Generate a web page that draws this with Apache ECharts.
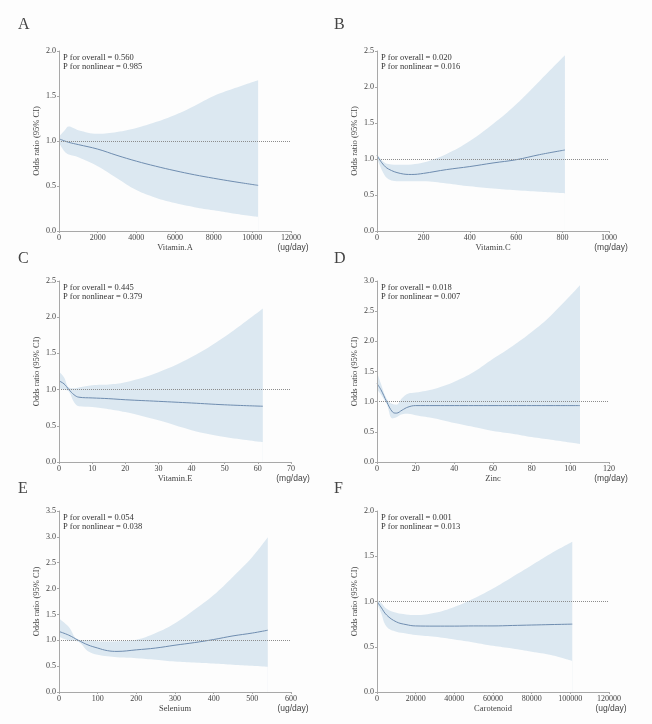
<!DOCTYPE html>
<html>
<head>
<meta charset="utf-8">
<title>RCS odds ratio panels</title>
<script src="https://cdn.jsdelivr.net/npm/echarts@6/dist/echarts.min.js"></script>
<style>
  html, body { margin: 0; padding: 0; background: #fdfdfd; }
  #myChart { width: 652px; height: 724px; }
</style>
</head>
<body>
<div id="myChart"></div>
<script>
// panel labels and texts
var panelLetters = ['A', 'B', 'C', 'D', 'E', 'F'];
var nutrientNames = ['Vitamin.A', 'Vitamin.C', 'Vitamin.E', 'Zinc', 'Selenium', 'Carotenoid'];
var unitLabels = ['(ug/day)', '(mg/day)', '(mg/day)', '(mg/day)', '(ug/day)', '(ug/day)'];
var pOverall = ['0.560', '0.020', '0.445', '0.018', '0.054', '0.001'];
var pNonlinear = ['0.985', '0.016', '0.379', '0.007', '0.038', '0.013'];

// axis ranges
var xMaxes = [12000, 1000, 70, 120, 600, 120000];
var xSteps = [2000, 200, 10, 20, 100, 20000];
var yMaxes = [2.0, 2.5, 2.5, 3.0, 3.5, 2.0];

// A - Vitamin A
var vitA_x = [50, 300, 500, 1000, 2000, 3000, 4000, 5000, 6000, 7000, 8000, 9000, 10300];
var vitA_or = [1.02, 1.0, 0.985, 0.96, 0.91, 0.84, 0.776, 0.72, 0.67, 0.625, 0.586, 0.55, 0.507];
var vitA_lower = [0.96, 0.88, 0.85, 0.82, 0.72, 0.586, 0.455, 0.37, 0.31, 0.265, 0.23, 0.195, 0.157];
var vitA_upper = [1.06, 1.12, 1.16, 1.12, 1.08, 1.10, 1.145, 1.21, 1.29, 1.39, 1.50, 1.58, 1.675];

// B - Vitamin C
var vitC_x = [0, 25, 50, 100, 150, 200, 300, 400, 500, 600, 700, 810];
var vitC_or = [1.05, 0.93, 0.86, 0.80, 0.785, 0.80, 0.853, 0.895, 0.945, 0.99, 1.06, 1.125];
var vitC_lower = [1.02, 0.82, 0.72, 0.69, 0.69, 0.69, 0.66, 0.62, 0.59, 0.565, 0.545, 0.525];
var vitC_upper = [1.07, 0.97, 0.93, 0.92, 0.925, 0.95, 1.07, 1.25, 1.485, 1.76, 2.08, 2.44];

// C - Vitamin E
var vitE_x = [0, 1.5, 3, 4.5, 6, 10, 15, 20, 30, 40, 50, 61.5];
var vitE_or = [1.12, 1.08, 1.0, 0.93, 0.895, 0.885, 0.875, 0.86, 0.838, 0.815, 0.79, 0.77];
var vitE_lower = [1.02, 1.0, 0.97, 0.83, 0.77, 0.76, 0.73, 0.69, 0.575, 0.44, 0.345, 0.275];
var vitE_upper = [1.25, 1.17, 1.03, 1.02, 1.03, 1.06, 1.07, 1.10, 1.24, 1.45, 1.73, 2.12];

// D - Zinc
var zinc_x = [0, 2, 5, 8, 10, 13, 16, 20, 30, 40, 50, 60, 70, 80, 90, 105];
var zinc_or = [1.30, 1.2, 1.0, 0.83, 0.81, 0.86, 0.91, 0.935, 0.935, 0.935, 0.935, 0.935, 0.935, 0.935, 0.935, 0.935];
var zinc_lower = [1.2, 1.12, 0.96, 0.72, 0.74, 0.79, 0.80, 0.775, 0.72, 0.645, 0.58, 0.515, 0.47, 0.415, 0.37, 0.30];
var zinc_upper = [1.49, 1.3, 1.05, 0.96, 0.95, 1.06, 1.13, 1.15, 1.215, 1.33, 1.49, 1.71, 1.92, 2.155, 2.43, 2.93];

// E - Selenium
var selen_x = [0, 25, 50, 75, 100, 125, 150, 200, 250, 300, 350, 400, 450, 500, 540];
var selen_or = [1.17, 1.1, 1.0, 0.91, 0.85, 0.80, 0.785, 0.815, 0.85, 0.905, 0.955, 1.015, 1.085, 1.14, 1.195];
var selen_lower = [1.07, 1.0, 0.97, 0.79, 0.72, 0.69, 0.67, 0.655, 0.625, 0.59, 0.57, 0.55, 0.527, 0.507, 0.488];
var selen_upper = [1.42, 1.26, 1.01, 1.0, 0.98, 0.975, 0.98, 1.01, 1.14, 1.33, 1.59, 1.875, 2.23, 2.61, 2.99];

// F - Carotenoid
var carot_x = [0, 2000, 5000, 10000, 15000, 20000, 30000, 40000, 50000, 60000, 70000, 80000, 90000, 101000];
var carot_or = [1.0, 0.94, 0.85, 0.775, 0.745, 0.73, 0.728, 0.728, 0.73, 0.73, 0.735, 0.74, 0.745, 0.75];
var carot_lower = [0.98, 0.88, 0.72, 0.665, 0.647, 0.63, 0.61, 0.58, 0.548, 0.51, 0.48, 0.445, 0.408, 0.342];
var carot_upper = [1.02, 0.99, 0.92, 0.875, 0.857, 0.85, 0.875, 0.94, 1.033, 1.143, 1.27, 1.40, 1.53, 1.66];

var panelX = [vitA_x, vitC_x, vitE_x, zinc_x, selen_x, carot_x];
var panelOr = [vitA_or, vitC_or, vitE_or, zinc_or, selen_or, carot_or];
var panelLower = [vitA_lower, vitC_lower, vitE_lower, zinc_lower, selen_lower, carot_lower];
var panelUpper = [vitA_upper, vitC_upper, vitE_upper, zinc_upper, selen_upper, carot_upper];

var bgColor = '#fdfdfd';
var bandColor = '#dce8f1';
var lineColor = '#6f8db0';
var axisColor = '#a8a8a8';
var textColor = '#444';
var serif = '"Liberation Serif", "Times New Roman", serif';
var sans = '"Liberation Sans", Arial, sans-serif';

// grid boxes (2 columns x 3 rows)
var gridLefts = [59, 377];
var gridTops = [51, 281, 511];
var gridWidth = 232;
var gridHeights = [180, 181, 181];

function pairs(xs, ys) {
  var out = [];
  for (var k = 0; k < xs.length; k++) {
    out.push([xs[k], ys[k]]);
  }
  return out;
}

var myChart = echarts.init(document.getElementById('myChart'));

var grids = [], xAxes = [], yAxes = [], series = [], graphics = [];

for (var i = 0; i < 6; i++) {
  var col = i % 2, row = Math.floor(i / 2);
  var gx = gridLefts[col], gy = gridTops[row], gh = gridHeights[row];

  grids.push({ left: gx, top: gy, width: gridWidth, height: gh });

  xAxes.push({
    gridIndex: i, type: 'value', min: 0, max: xMaxes[i], interval: xSteps[i], z: 10,
    name: nutrientNames[i], nameLocation: 'middle', nameGap: 12,
    nameTextStyle: { fontFamily: serif, fontSize: 8.5, color: textColor },
    axisLine: { show: true, lineStyle: { color: axisColor, width: 1 } },
    axisTick: { show: true, length: 2, lineStyle: { color: axisColor } },
    axisLabel: { fontFamily: serif, fontSize: 8, color: textColor, margin: 3,
      formatter: function (v) { return String(v); } },
    splitLine: { show: false }
  });

  yAxes.push({
    gridIndex: i, type: 'value', min: 0, max: yMaxes[i], interval: 0.5, z: 10,
    name: 'Odds ratio (95% CI)', nameLocation: 'middle', nameGap: 18,
    nameTextStyle: { fontFamily: serif, fontSize: 8.5, color: textColor },
    axisLine: { show: true, lineStyle: { color: axisColor, width: 1 } },
    axisTick: { show: true, length: 2, lineStyle: { color: axisColor } },
    axisLabel: { fontFamily: serif, fontSize: 8, color: textColor, margin: 3,
      formatter: function (v) { return v.toFixed(1); } },
    splitLine: { show: false }
  });

  // upper bound filled down to the axis
  series.push({
    type: 'line', xAxisIndex: i, yAxisIndex: i,
    data: pairs(panelX[i], panelUpper[i]),
    smooth: 0.4, symbol: 'none', silent: true,
    lineStyle: { width: 0, opacity: 0 },
    areaStyle: { color: bandColor, opacity: 1 }
  });
  // lower bound filled with background, leaves the band
  series.push({
    type: 'line', xAxisIndex: i, yAxisIndex: i,
    data: pairs(panelX[i], panelLower[i]),
    smooth: 0.4, symbol: 'none', silent: true,
    lineStyle: { width: 0, opacity: 0 },
    areaStyle: { color: bgColor, opacity: 1 }
  });
  // odds ratio line + reference at 1
  series.push({
    type: 'line', xAxisIndex: i, yAxisIndex: i,
    data: pairs(panelX[i], panelOr[i]),
    smooth: 0.4, symbol: 'none', silent: true,
    lineStyle: { color: lineColor, width: 1 },
    markLine: {
      silent: true, symbol: 'none', label: { show: false },
      lineStyle: { color: '#8c8c8c', type: 'dotted', width: 1 },
      data: [{ yAxis: 1 }]
    }
  });

  // panel letter
  graphics.push({
    type: 'text', left: col === 0 ? 18 : 334, top: gy - (row === 0 ? 34 : 30),
    style: { text: panelLetters[i], font: '16px ' + serif, fill: '#444' }
  });
  // p values
  graphics.push({
    type: 'text', left: gx + 4, top: gy + 2,
    style: { text: 'P for overall = ' + pOverall[i] + '\nP for nonlinear = ' + pNonlinear[i],
      font: '8.5px ' + serif, fill: '#333', lineHeight: 9.3 }
  });
  // unit under axis end
  graphics.push({
    type: 'text', x: gx + gridWidth + 2, y: gy + gh + 17,
    style: { text: unitLabels[i], font: '8.5px ' + sans, fill: textColor,
      align: 'center', verticalAlign: 'middle' }
  });
}

var option = {
  backgroundColor: bgColor,
  animation: false,
  grid: grids,
  xAxis: xAxes,
  yAxis: yAxes,
  series: series,
  graphic: graphics
};
myChart.setOption(option);
</script>
</body>
</html>
